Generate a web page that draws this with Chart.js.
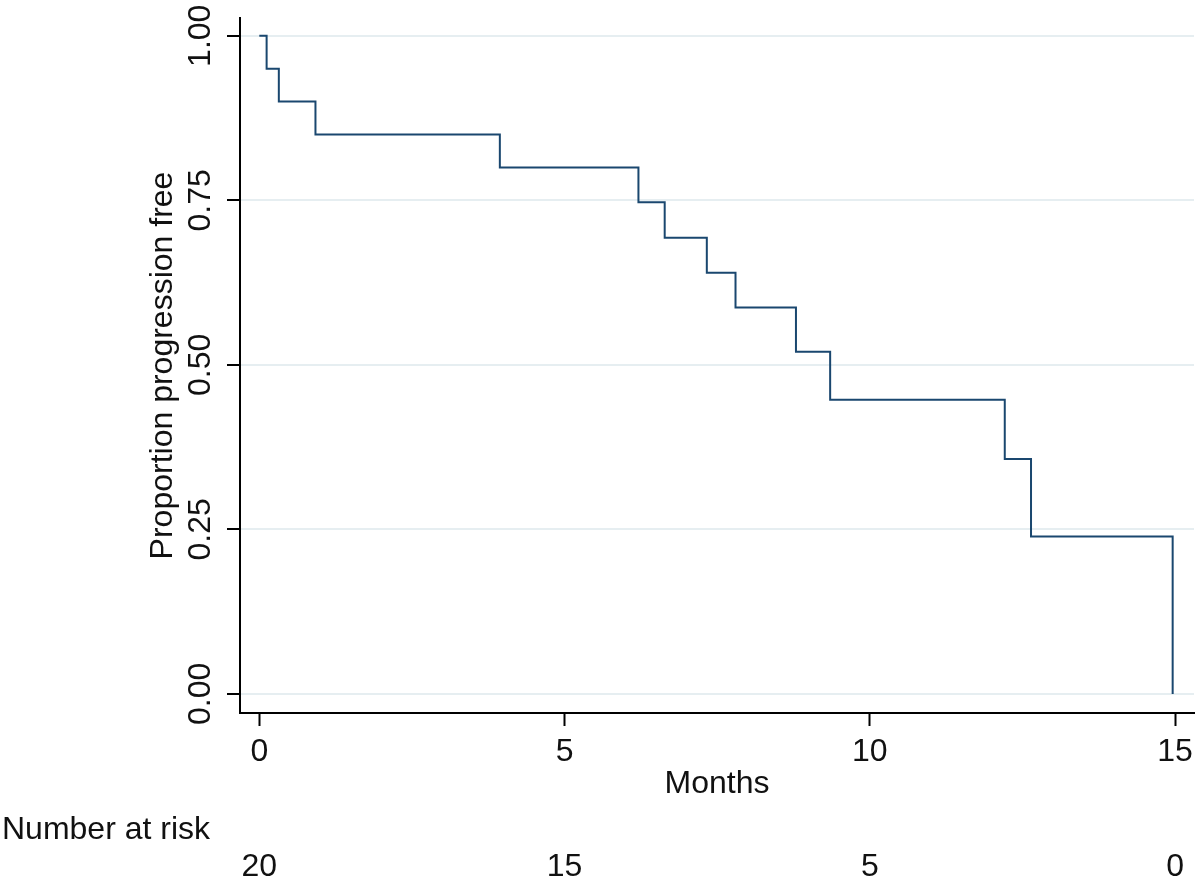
<!DOCTYPE html>
<html>
<head>
<meta charset="utf-8">
<title>Proportion progression free</title>
<script src="https://cdn.jsdelivr.net/npm/chart.js@4"></script>
<style>
  body { margin: 0; background: #fff; }
  #wrap { width: 1200px; height: 882px; }
</style>
</head>
<body>
<div id="wrap"><canvas id="km" width="1200" height="882"></canvas></div>
<script>
// Kaplan-Meier estimate
const months = [0, 0.12, 0.32, 0.92, 3.94, 6.21, 6.64, 7.33, 7.80, 8.79, 9.35, 12.21, 12.64, 14.96];
const survival = [1, 0.95, 0.90, 0.85, 0.80, 0.747, 0.693, 0.640, 0.587, 0.520, 0.447, 0.357, 0.239, 0];

const xTicks = [0, 5, 10, 15];
const yTicks = [0, 0.25, 0.5, 0.75, 1];
const yTickLabels = ['0.00', '0.25', '0.50', '0.75', '1.00'];

const riskTimes = [0, 5, 10, 15];
const atRisk = [20, 15, 5, 0];

const FONT = '"Liberation Sans", Arial, sans-serif';
const TEXT = '#111';

// y tick labels, axis titles and the number-at-risk row
const extraText = {
    id: 'extraText',
    afterDraw(chart) {
        const ctx = chart.ctx;
        const x = chart.scales.x;
        const y = chart.scales.y;
        ctx.save();
        ctx.fillStyle = TEXT;
        ctx.font = '32px ' + FONT;
        ctx.textBaseline = 'alphabetic';

        // rotated y tick labels
        ctx.textAlign = 'center';
        yTicks.forEach((v, i) => {
            ctx.save();
            ctx.translate(210, y.getPixelForValue(v));
            ctx.rotate(-Math.PI / 2);
            ctx.fillText(yTickLabels[i], 0, 0);
            ctx.restore();
        });

        // y title
        ctx.save();
        ctx.translate(172, (chart.chartArea.top + chart.chartArea.bottom) / 2);
        ctx.rotate(-Math.PI / 2);
        ctx.fillText('Proportion progression free', 0, 0);
        ctx.restore();

        // x title
        ctx.fillText('Months', (chart.chartArea.left + chart.chartArea.right) / 2, 793);

        // number at risk
        ctx.textAlign = 'left';
        ctx.fillText('Number at risk', 2, 839);
        ctx.textAlign = 'center';
        riskTimes.forEach((t, i) => {
            ctx.fillText(String(atRisk[i]), x.getPixelForValue(t), 876);
        });
        ctx.restore();
    }
};

const ctx = document.getElementById('km').getContext('2d');
const chart = new Chart(ctx, {
    type: 'line',
    data: {
        datasets: [{
            data: months.map((m, i) => ({ x: m, y: survival[i] })),
            borderColor: '#1a476f',
            borderWidth: 2,
            pointRadius: 0,
            stepped: 'before',
            fill: false
        }]
    },
    options: {
        responsive: false,
        animation: false,
        layout: { padding: { top: 18, right: 5, left: 0, bottom: 0 } },
        plugins: {
            legend: { display: false },
            tooltip: { enabled: false }
        },
        scales: {
            x: {
                type: 'linear',
                min: -0.316,
                max: 15.31,
                afterBuildTicks: (s) => { s.ticks = xTicks.map(v => ({ value: v })); },
                afterFit: (s) => { s.height = 169; },
                border: { color: '#000', width: 2 },
                grid: { drawOnChartArea: false, tickColor: '#000', tickLength: 13, tickWidth: 2 },
                ticks: {
                    color: TEXT,
                    padding: 7,
                    maxRotation: 0,
                    font: { family: FONT, size: 32 }
                }
            },
            y: {
                min: -0.029,
                max: 1.027,
                afterBuildTicks: (s) => { s.ticks = yTicks.map(v => ({ value: v })); },
                afterFit: (s) => { s.width = 240; },
                border: { color: '#000', width: 2 },
                grid: { color: '#e6eef1', lineWidth: 2, tickColor: '#000', tickLength: 13, tickWidth: 2 },
                ticks: { display: false }
            }
        }
    },
    plugins: [extraText]
});
</script>
</body>
</html>
